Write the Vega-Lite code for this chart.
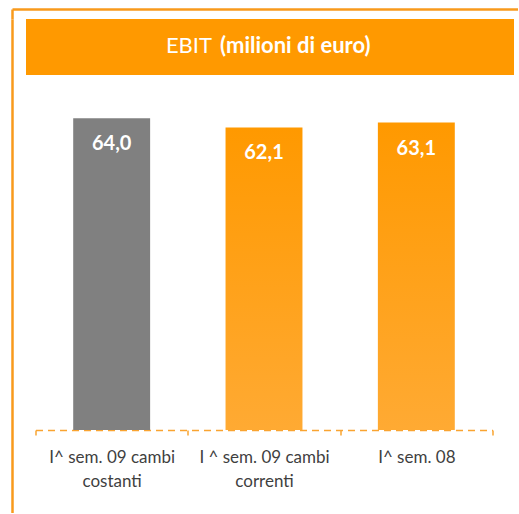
{
  "$schema": "https://vega.github.io/schema/vega-lite/v6.json",
  "padding": {"left": 12, "top": 9, "right": 0, "bottom": 0},
  "background": "#ffffff",
  "bounds": "flush",
  "spacing": 0,
  "config": {
    "font": "Lato",
    "view": {"stroke": null},
    "locale": {"number": {"decimal": ",", "thousands": ".", "grouping": [3], "currency": ["", " €"]}}
  },
  "datasets": {
    "ebit": [
      {"categoria": "I^ sem. 09 cambi\ncostanti", "gruppo": "2009 costanti", "valore": 64.0},
      {"categoria": "I ^ sem. 09 cambi\ncorrenti", "gruppo": "2009 correnti", "valore": 62.1},
      {"categoria": "I^ sem. 08", "gruppo": "2008", "valore": 63.1}
    ]
  },
  "vconcat": [
    {
      "width": 506,
      "height": 10,
      "data": {"values": [{}]},
      "mark": {"type": "point", "opacity": 0, "size": 0, "strokeWidth": 0},
      "encoding": {
        "x": {"datum": 0.5, "type": "quantitative", "scale": {"domain": [0, 1]}, "axis": {"orient": "top", "labels": false, "ticks": false, "grid": false, "title": null, "domainColor": "#F89A1C", "domainWidth": 2.5}},
        "y": {"datum": 0.5, "type": "quantitative", "scale": {"domain": [0, 1]}, "axis": {"orient": "left", "labels": false, "ticks": false, "grid": false, "title": null, "domainColor": "#F89A1C", "domainWidth": 2.5}}
      }
    },
    {
      "bounds": "flush",
      "spacing": 13,
      "hconcat": [
        {
          "width": 1,
          "height": 494,
          "data": {"values": [{}]},
          "mark": {"type": "point", "opacity": 0, "size": 0, "strokeWidth": 0},
          "encoding": {
            "y": {"datum": 0.5, "type": "quantitative", "scale": {"domain": [0, 1]}, "axis": {"orient": "left", "labels": false, "ticks": false, "grid": false, "title": null, "domainColor": "#F89A1C", "domainWidth": 2.5}}
          }
        },
        {
          "bounds": "flush",
          "spacing": 14,
          "vconcat": [
            {
              "width": 488,
              "height": 56,
              "view": {"fill": "#FF9900", "stroke": null},
              "data": {"values": [{}]},
              "layer": [
                {"mark": {"type": "text", "text": "EBIT", "align": "right", "baseline": "alphabetic", "dx": -58, "dy": 6, "fontSize": 22, "font": "Lato", "color": "#ffffff"}, "encoding": {}},
                {"mark": {"type": "text", "text": "(milioni di euro)", "align": "left", "baseline": "alphabetic", "dx": -50, "dy": 6, "fontSize": 22, "fontWeight": "bold", "font": "Lato", "color": "#ffffff"}, "encoding": {}}
              ]
            },
            {
              "bounds": "flush",
              "spacing": 8.5,
              "hconcat": [
                {
                  "width": 1,
                  "height": 1,
                  "data": {"values": [{}]},
                  "mark": {"type": "text", "text": ""},
                  "encoding": {}
                },
                {
                  "width": 457,
                  "height": 341,
                  "data": {"name": "ebit"},
                  "encoding": {
                    "x": {
                      "field": "categoria", "type": "nominal", "sort": null,
                      "scale": {"paddingInner": 0, "paddingOuter": 0},
                      "axis": {
                        "title": null, "labelAngle": 0,
                        "domainColor": "#F9A431", "domainDash": [7, 5], "domainWidth": 1.5,
                        "tickColor": "#F9A431", "tickBand": "extent", "tickSize": 5, "tickWidth": 1.5,
                        "labelFont": "Lato", "labelFontSize": 17, "labelColor": "#3F3F3F",
                        "labelPadding": 14, "labelLineHeight": 24, "labelBaseline": "top",
                        "labelExpr": "split(datum.label, '\\n')"
                      }
                    },
                    "y": {"field": "valore", "type": "quantitative", "scale": {"domain": [0, 70]}, "axis": null}
                  },
                  "layer": [
                    {
                      "transform": [{"filter": "datum.gruppo === '2009 costanti'"}],
                      "mark": {"type": "bar", "color": "#808080", "width": {"band": 0.505}}
                    },
                    {
                      "transform": [{"filter": "datum.gruppo !== '2009 costanti'"}],
                      "mark": {"type": "bar", "width": {"band": 0.505},
                        "color": {"gradient": "linear", "x1": 0, "y1": 0, "x2": 0, "y2": 1,
                          "stops": [{"offset": 0, "color": "#FF9900"}, {"offset": 1, "color": "#FFAA33"}]}}
                    },
                    {
                      "mark": {"type": "text", "baseline": "top", "dy": 16, "fontSize": 20, "fontWeight": "bold", "font": "Lato", "color": "#ffffff"},
                      "encoding": {"text": {"field": "valore", "type": "quantitative", "format": ".1f"}}
                    }
                  ]
                }
              ]
            }
          ]
        }
      ]
    }
  ]
}
